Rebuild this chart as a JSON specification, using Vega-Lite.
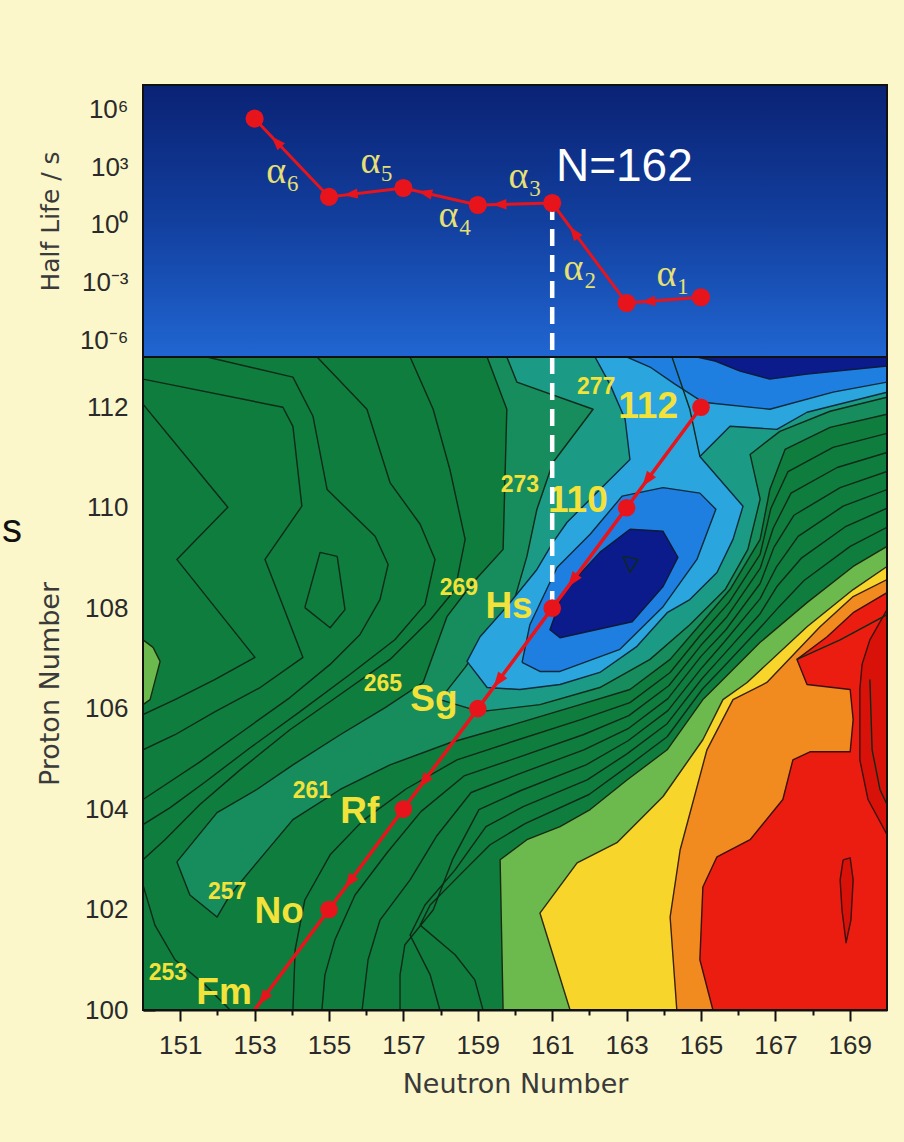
{
"$schema":"https://vega.github.io/schema/vega-lite/v6.json",
"background":"#FBF7CB",
"padding":{"left":2,"top":84,"right":16,"bottom":64},
"spacing":0,
"bounds":"flush",
"config":{"view":{"stroke":null},
 "axis":{"domainColor":"#111","domainWidth":2,"tickColor":"#111","tickWidth":2,"labelColor":"#2a2a2a","labelFont":"Liberation Sans","labelFontSize":26,"titleFont":"DejaVu Sans","titleFontSize":25,"titleFontWeight":"normal","titleColor":"#3a3a3a","grid":false}},
"datasets":{
"hl":[{"N":153,"hl":350000},{"N":155,"hl":29},{"N":157,"hl":85},{"N":159,"hl":11},{"N":161,"hl":14},{"N":163,"hl":0.000085},{"N":165,"hl":0.00017}],
"hlseg":[{"N":165,"hl":0.00017,"N2":163,"hl2":0.000085},{"N":163,"hl":0.000085,"N2":161,"hl2":14},{"N":161,"hl":14,"N2":159,"hl2":11},{"N":159,"hl":11,"N2":157,"hl2":85},{"N":157,"hl":85,"N2":155,"hl2":29},{"N":155,"hl":29,"N2":153,"hl2":350000}],
"alphas":[{"t":"α₁","N":164.25,"hl":0.00245},{"t":"α₂","N":161.75,"hl":0.005},{"t":"α₃","N":160.27,"hl":316},{"t":"α₄","N":158.39,"hl":2.95},{"t":"α₅","N":156.29,"hl":1950},{"t":"α₆","N":153.76,"hl":575}],
"chain":[{"N":153,"Z":100},{"N":155,"Z":102},{"N":157,"Z":104},{"N":159,"Z":106},{"N":161,"Z":108},{"N":163,"Z":110},{"N":165,"Z":112}],
"chainseg":[{"N":165,"Z":112,"N2":163,"Z2":110},{"N":163,"Z":110,"N2":161,"Z2":108},{"N":161,"Z":108,"N2":159,"Z2":106},{"N":159,"Z":106,"N2":157,"Z2":104},{"N":157,"Z":104,"N2":155,"Z2":102},{"N":155,"Z":102,"N2":153,"Z2":100}],
"elem":[{"t":"112","N":163.58,"Z":112.0},{"t":"110","N":161.69,"Z":110.14},{"t":"Hs","N":159.84,"Z":108.03},{"t":"Sg","N":157.82,"Z":106.18},{"t":"Rf","N":155.83,"Z":103.95},{"t":"No","N":153.66,"Z":101.95},{"t":"Fm","N":152.18,"Z":100.34}],
"mass":[{"t":"277","N":162.18,"Z":112.4},{"t":"273","N":160.13,"Z":110.46},{"t":"269","N":158.49,"Z":108.41},{"t":"265","N":156.45,"Z":106.5},{"t":"261","N":154.54,"Z":104.35},{"t":"257","N":152.26,"Z":102.35},{"t":"253","N":150.67,"Z":100.74}],
"poly":[
{"p":"t1","k":1,"N":150.91,"Z":102.95},{"p":"t1","k":2,"N":151.99,"Z":103.93},{"p":"t1","k":3,"N":153.06,"Z":104.39},{"p":"t1","k":4,"N":154.03,"Z":104.88},{"p":"t1","k":5,"N":155.3,"Z":105.48},{"p":"t1","k":6,"N":156.51,"Z":106.02},{"p":"t1","k":7,"N":157.53,"Z":106.52},{"p":"t1","k":8,"N":158.17,"Z":107.83},{"p":"t1","k":9,"N":158.87,"Z":108.51},{"p":"t1","k":10,"N":159.68,"Z":109.17},{"p":"t1","k":11,"N":159.78,"Z":111.96},{"p":"t1","k":12,"N":159.25,"Z":113},{"p":"t1","k":13,"N":170,"Z":113},{"p":"t1","k":14,"N":170,"Z":111.86},{"p":"t1","k":15,"N":168.47,"Z":111.6},{"p":"t1","k":16,"N":167.26,"Z":111.16},{"p":"t1","k":17,"N":166.85,"Z":110.36},{"p":"t1","k":18,"N":166.59,"Z":109.37},{"p":"t1","k":19,"N":165.78,"Z":108.37},{"p":"t1","k":20,"N":164.97,"Z":107.67},{"p":"t1","k":21,"N":164.17,"Z":106.98},{"p":"t1","k":22,"N":163.09,"Z":106.38},{"p":"t1","k":23,"N":161.75,"Z":106.08},{"p":"t1","k":24,"N":159.95,"Z":105.68},{"p":"t1","k":25,"N":158.25,"Z":105.32},{"p":"t1","k":26,"N":156.64,"Z":104.88},{"p":"t1","k":27,"N":155.3,"Z":104.39},{"p":"t1","k":28,"N":154.03,"Z":103.79},{"p":"t1","k":29,"N":153.01,"Z":102.89},{"p":"t1","k":30,"N":152.34,"Z":102.29},{"p":"t1","k":31,"N":151.99,"Z":101.85},{"p":"t1","k":32,"N":151.26,"Z":102.29},{"p":"t1","k":33,"N":150.91,"Z":102.95},
{"p":"t2","k":1,"N":157.98,"Z":106.18},{"p":"t2","k":2,"N":158.66,"Z":106.82},{"p":"t2","k":3,"N":159.33,"Z":107.53},{"p":"t2","k":4,"N":160.0,"Z":108.21},{"p":"t2","k":5,"N":160.32,"Z":109.03},{"p":"t2","k":6,"N":160.59,"Z":109.97},{"p":"t2","k":7,"N":161.02,"Z":110.9},{"p":"t2","k":8,"N":162.1,"Z":111.96},{"p":"t2","k":9,"N":160.05,"Z":112.5},{"p":"t2","k":10,"N":159.78,"Z":113},{"p":"t2","k":11,"N":170,"Z":113},{"p":"t2","k":12,"N":170,"Z":112.2},{"p":"t2","k":13,"N":168.47,"Z":111.92},{"p":"t2","k":14,"N":167.12,"Z":111.52},{"p":"t2","k":15,"N":166.32,"Z":111.06},{"p":"t2","k":16,"N":166.59,"Z":110.17},{"p":"t2","k":17,"N":166.26,"Z":109.17},{"p":"t2","k":18,"N":165.65,"Z":108.37},{"p":"t2","k":19,"N":164.7,"Z":107.67},{"p":"t2","k":20,"N":163.63,"Z":106.98},{"p":"t2","k":21,"N":162.28,"Z":106.42},{"p":"t2","k":22,"N":160.67,"Z":106.08},{"p":"t2","k":23,"N":159.06,"Z":105.94},{"p":"t2","k":24,"N":157.98,"Z":106.18},
{"p":"lb","k":1,"N":162.15,"Z":113},{"p":"lb","k":2,"N":170,"Z":113},{"p":"lb","k":3,"N":170,"Z":112.3},{"p":"lb","k":4,"N":167.85,"Z":111.9},{"p":"lb","k":5,"N":167.04,"Z":111.56},{"p":"lb","k":6,"N":165.78,"Z":111.62},{"p":"lb","k":7,"N":164.97,"Z":111.02},{"p":"lb","k":8,"N":166.13,"Z":110.03},{"p":"lb","k":9,"N":165.86,"Z":109.37},{"p":"lb","k":10,"N":165.43,"Z":108.71},{"p":"lb","k":11,"N":164.7,"Z":108.17},{"p":"lb","k":12,"N":164.09,"Z":107.91},{"p":"lb","k":13,"N":163.28,"Z":107.24},{"p":"lb","k":14,"N":162.28,"Z":106.72},{"p":"lb","k":15,"N":161.21,"Z":106.48},{"p":"lb","k":16,"N":160.13,"Z":106.38},{"p":"lb","k":17,"N":159.25,"Z":106.42},{"p":"lb","k":18,"N":158.71,"Z":106.94},{"p":"lb","k":19,"N":159.06,"Z":107.43},{"p":"lb","k":20,"N":159.78,"Z":108.03},{"p":"lb","k":21,"N":160.59,"Z":108.77},{"p":"lb","k":22,"N":161.02,"Z":109.31},{"p":"lb","k":23,"N":161.4,"Z":109.71},{"p":"lb","k":24,"N":162.1,"Z":110.23},{"p":"lb","k":25,"N":163.09,"Z":110.96},{"p":"lb","k":26,"N":162.96,"Z":111.76},{"p":"lb","k":27,"N":162.55,"Z":112.46},{"p":"lb","k":28,"N":162.15,"Z":113},
{"p":"mb1","k":1,"N":160.19,"Z":106.92},{"p":"mb1","k":2,"N":160.4,"Z":107.67},{"p":"mb1","k":3,"N":161.13,"Z":108.81},{"p":"mb1","k":4,"N":162.02,"Z":109.47},{"p":"mb1","k":5,"N":162.88,"Z":110.23},{"p":"mb1","k":6,"N":163.98,"Z":110.4},{"p":"mb1","k":7,"N":164.97,"Z":110.29},{"p":"mb1","k":8,"N":165.4,"Z":109.97},{"p":"mb1","k":9,"N":164.89,"Z":108.97},{"p":"mb1","k":10,"N":163.98,"Z":108.03},{"p":"mb1","k":11,"N":162.82,"Z":107.18},{"p":"mb1","k":12,"N":161.21,"Z":106.74},{"p":"mb1","k":13,"N":160.67,"Z":106.74},{"p":"mb1","k":14,"N":160.19,"Z":106.92},
{"p":"mb2","k":1,"N":163.01,"Z":113},{"p":"mb2","k":2,"N":170,"Z":113},{"p":"mb2","k":3,"N":170,"Z":112.5},{"p":"mb2","k":4,"N":168.55,"Z":112.3},{"p":"mb2","k":5,"N":166.85,"Z":111.96},{"p":"mb2","k":6,"N":165.05,"Z":112.1},{"p":"mb2","k":7,"N":164.3,"Z":112.46},{"p":"mb2","k":8,"N":163.63,"Z":112.8},{"p":"mb2","k":9,"N":163.01,"Z":113},
{"p":"nv1","k":1,"N":164.89,"Z":113},{"p":"nv1","k":2,"N":170,"Z":113},{"p":"nv1","k":3,"N":170,"Z":112.82},{"p":"nv1","k":4,"N":167.85,"Z":112.66},{"p":"nv1","k":5,"N":166.85,"Z":112.56},{"p":"nv1","k":6,"N":166.05,"Z":112.72},{"p":"nv1","k":7,"N":165.38,"Z":112.92},{"p":"nv1","k":8,"N":164.89,"Z":113},
{"p":"nv2","k":1,"N":163.09,"Z":109.57},{"p":"nv2","k":2,"N":163.98,"Z":109.53},{"p":"nv2","k":3,"N":164.38,"Z":109.01},{"p":"nv2","k":4,"N":163.98,"Z":108.43},{"p":"nv2","k":5,"N":163.15,"Z":107.73},{"p":"nv2","k":6,"N":161.21,"Z":107.41},{"p":"nv2","k":7,"N":160.94,"Z":107.57},{"p":"nv2","k":8,"N":161.29,"Z":108.31},{"p":"nv2","k":9,"N":162.28,"Z":109.11},{"p":"nv2","k":10,"N":163.09,"Z":109.57},
{"p":"lg2","k":1,"N":150,"Z":107.37},{"p":"lg2","k":2,"N":150.27,"Z":107.22},{"p":"lg2","k":3,"N":150.46,"Z":106.94},{"p":"lg2","k":4,"N":150.19,"Z":106.18},{"p":"lg2","k":5,"N":150,"Z":106.08},{"p":"lg2","k":6,"N":150,"Z":107.37},
{"p":"lg1","k":1,"N":159.68,"Z":100},{"p":"lg1","k":2,"N":159.6,"Z":102.99},{"p":"lg1","k":3,"N":160.32,"Z":103.39},{"p":"lg1","k":4,"N":161.21,"Z":103.65},{"p":"lg1","k":5,"N":162.02,"Z":103.99},{"p":"lg1","k":6,"N":163.01,"Z":104.58},{"p":"lg1","k":7,"N":164.09,"Z":105.18},{"p":"lg1","k":8,"N":165.05,"Z":106.18},{"p":"lg1","k":9,"N":165.51,"Z":106.52},{"p":"lg1","k":10,"N":166.59,"Z":107.32},{"p":"lg1","k":11,"N":167.85,"Z":108.11},{"p":"lg1","k":12,"N":169.09,"Z":108.83},{"p":"lg1","k":13,"N":170,"Z":109.23},{"p":"lg1","k":14,"N":170,"Z":100},{"p":"lg1","k":15,"N":159.68,"Z":100},
{"p":"ye","k":1,"N":161.48,"Z":100},{"p":"ye","k":2,"N":160.67,"Z":101.93},{"p":"ye","k":3,"N":161.67,"Z":102.93},{"p":"ye","k":4,"N":162.74,"Z":103.33},{"p":"ye","k":5,"N":163.98,"Z":104.25},{"p":"ye","k":6,"N":165.05,"Z":105.38},{"p":"ye","k":7,"N":165.59,"Z":106.18},{"p":"ye","k":8,"N":166.24,"Z":106.52},{"p":"ye","k":9,"N":167.85,"Z":107.63},{"p":"ye","k":10,"N":169.09,"Z":108.37},{"p":"ye","k":11,"N":170,"Z":108.83},{"p":"ye","k":12,"N":170,"Z":100},{"p":"ye","k":13,"N":161.48,"Z":100},
{"p":"or","k":1,"N":164.35,"Z":100},{"p":"or","k":2,"N":164.17,"Z":101.85},{"p":"or","k":3,"N":164.44,"Z":103.19},{"p":"or","k":4,"N":165.16,"Z":105.18},{"p":"or","k":5,"N":165.86,"Z":106.18},{"p":"or","k":6,"N":166.77,"Z":106.52},{"p":"or","k":7,"N":168.2,"Z":107.63},{"p":"or","k":8,"N":169.09,"Z":108.23},{"p":"or","k":9,"N":170,"Z":108.57},{"p":"or","k":10,"N":170,"Z":100},{"p":"or","k":11,"N":164.35,"Z":100},
{"p":"rd","k":1,"N":165.32,"Z":100},{"p":"rd","k":2,"N":164.97,"Z":101.0},{"p":"rd","k":3,"N":165.05,"Z":102.45},{"p":"rd","k":4,"N":165.43,"Z":103.05},{"p":"rd","k":5,"N":166.32,"Z":103.39},{"p":"rd","k":6,"N":167.2,"Z":104.19},{"p":"rd","k":7,"N":167.47,"Z":104.98},{"p":"rd","k":8,"N":167.93,"Z":105.14},{"p":"rd","k":9,"N":169.01,"Z":105.14},{"p":"rd","k":10,"N":169.09,"Z":105.78},{"p":"rd","k":11,"N":169.01,"Z":106.38},{"p":"rd","k":12,"N":167.85,"Z":106.48},{"p":"rd","k":13,"N":167.58,"Z":106.98},{"p":"rd","k":14,"N":168.39,"Z":107.43},{"p":"rd","k":15,"N":169.09,"Z":107.91},{"p":"rd","k":16,"N":170,"Z":108.31},{"p":"rd","k":17,"N":170,"Z":100},{"p":"rd","k":18,"N":165.32,"Z":100},
{"p":"dr","k":1,"N":169.27,"Z":106.38},{"p":"dr","k":2,"N":169.27,"Z":104.98},{"p":"dr","k":3,"N":169.49,"Z":104.19},{"p":"dr","k":4,"N":170,"Z":103.49},{"p":"dr","k":5,"N":170,"Z":107.97},{"p":"dr","k":6,"N":169.54,"Z":107.37},{"p":"dr","k":7,"N":169.33,"Z":106.88},{"p":"dr","k":8,"N":169.27,"Z":106.38},
{"p":"rs","k":1,"N":168.82,"Z":102.99},{"p":"rs","k":2,"N":169.01,"Z":103.03},{"p":"rs","k":3,"N":169.09,"Z":102.59},{"p":"rs","k":4,"N":169.03,"Z":101.79},{"p":"rs","k":5,"N":168.9,"Z":101.34},{"p":"rs","k":6,"N":168.79,"Z":101.99},{"p":"rs","k":7,"N":168.74,"Z":102.59},{"p":"rs","k":8,"N":168.82,"Z":102.99}
],
"cl":[
{"id":"U1","k":1,"N":150,"Z":112.56},{"id":"U1","k":2,"N":153.76,"Z":112.0},{"id":"U1","k":3,"N":154.03,"Z":111.62},{"id":"U1","k":4,"N":154.27,"Z":110.03},{"id":"U1","k":5,"N":153.28,"Z":108.97},{"id":"U1","k":6,"N":154.3,"Z":107.02},{"id":"U1","k":7,"N":153.15,"Z":106.42},{"id":"U1","k":8,"N":151.94,"Z":105.94},{"id":"U1","k":9,"N":150.86,"Z":105.48},{"id":"U1","k":10,"N":150,"Z":105.18},
{"id":"U2","k":1,"N":150,"Z":112.06},{"id":"U2","k":2,"N":152.28,"Z":110.01},{"id":"U2","k":3,"N":150.91,"Z":108.97},{"id":"U2","k":4,"N":153.01,"Z":107.02},{"id":"U2","k":5,"N":151.94,"Z":106.58},{"id":"U2","k":6,"N":150.86,"Z":106.18},{"id":"U2","k":7,"N":150,"Z":105.88},
{"id":"U3","k":1,"N":151.72,"Z":113},{"id":"U3","k":2,"N":154.03,"Z":112.6},{"id":"U3","k":3,"N":154.57,"Z":111.82},{"id":"U3","k":4,"N":154.95,"Z":110.36},{"id":"U3","k":5,"N":156.24,"Z":109.43},{"id":"U3","k":6,"N":156.59,"Z":108.87},{"id":"U3","k":7,"N":156.37,"Z":108.17},{"id":"U3","k":8,"N":155.83,"Z":107.47},{"id":"U3","k":9,"N":155.03,"Z":106.88},{"id":"U3","k":10,"N":153.95,"Z":106.22},{"id":"U3","k":11,"N":152.74,"Z":105.58},{"id":"U3","k":12,"N":151.53,"Z":104.94},{"id":"U3","k":13,"N":150.59,"Z":104.48},{"id":"U3","k":14,"N":150,"Z":104.19},
{"id":"U4","k":1,"N":154.68,"Z":113},{"id":"U4","k":2,"N":156.02,"Z":111.96},{"id":"U4","k":3,"N":156.64,"Z":110.5},{"id":"U4","k":4,"N":157.45,"Z":109.67},{"id":"U4","k":5,"N":157.85,"Z":108.97},{"id":"U4","k":6,"N":157.58,"Z":108.07},{"id":"U4","k":7,"N":156.77,"Z":107.37},{"id":"U4","k":8,"N":155.56,"Z":106.68},{"id":"U4","k":9,"N":154.22,"Z":105.94},{"id":"U4","k":10,"N":152.88,"Z":105.22},{"id":"U4","k":11,"N":151.67,"Z":104.54},{"id":"U4","k":12,"N":150.73,"Z":104.03},{"id":"U4","k":13,"N":150,"Z":103.69},
{"id":"U5","k":1,"N":157.18,"Z":113},{"id":"U5","k":2,"N":157.8,"Z":111.96},{"id":"U5","k":3,"N":158.25,"Z":110.76},{"id":"U5","k":4,"N":158.66,"Z":109.37},{"id":"U5","k":5,"N":158.39,"Z":108.37},{"id":"U5","k":6,"N":157.72,"Z":107.77},{"id":"U5","k":7,"N":156.64,"Z":106.98},{"id":"U5","k":8,"N":155.3,"Z":106.28},{"id":"U5","k":9,"N":153.95,"Z":105.58},{"id":"U5","k":10,"N":152.61,"Z":104.78},{"id":"U5","k":11,"N":151.53,"Z":104.09},{"id":"U5","k":12,"N":150.59,"Z":103.39},{"id":"U5","k":13,"N":150,"Z":102.99},
{"id":"B1","k":1,"N":170,"Z":111.48},{"id":"B1","k":2,"N":168.55,"Z":111.2},{"id":"B1","k":3,"N":167.34,"Z":110.72},{"id":"B1","k":4,"N":166.88,"Z":109.99},{"id":"B1","k":5,"N":166.59,"Z":109.07},{"id":"B1","k":6,"N":165.75,"Z":108.11},{"id":"B1","k":7,"N":164.97,"Z":107.45},{"id":"B1","k":8,"N":164.17,"Z":106.72},{"id":"B1","k":9,"N":163.09,"Z":106.12},{"id":"B1","k":10,"N":161.77,"Z":105.78},{"id":"B1","k":11,"N":160.0,"Z":105.36},{"id":"B1","k":12,"N":158.44,"Z":104.98},{"id":"B1","k":13,"N":157.07,"Z":104.4},{"id":"B1","k":14,"N":155.91,"Z":103.77},{"id":"B1","k":15,"N":155.03,"Z":103.09},{"id":"B1","k":16,"N":154.35,"Z":102.19},{"id":"B1","k":17,"N":154.09,"Z":101.2},{"id":"B1","k":18,"N":154.03,"Z":100},
{"id":"B2","k":1,"N":170,"Z":111.1},{"id":"B2","k":2,"N":168.66,"Z":110.8},{"id":"B2","k":3,"N":167.42,"Z":110.29},{"id":"B2","k":4,"N":166.94,"Z":109.59},{"id":"B2","k":5,"N":166.59,"Z":108.79},{"id":"B2","k":6,"N":165.7,"Z":107.83},{"id":"B2","k":7,"N":165.0,"Z":107.26},{"id":"B2","k":8,"N":164.14,"Z":106.46},{"id":"B2","k":9,"N":163.06,"Z":105.86},{"id":"B2","k":10,"N":161.83,"Z":105.48},{"id":"B2","k":11,"N":160.05,"Z":105.02},{"id":"B2","k":12,"N":158.63,"Z":104.66},{"id":"B2","k":13,"N":157.47,"Z":103.95},{"id":"B2","k":14,"N":156.56,"Z":103.13},{"id":"B2","k":15,"N":155.7,"Z":102.29},{"id":"B2","k":16,"N":155.16,"Z":101.4},{"id":"B2","k":17,"N":154.89,"Z":100.7},{"id":"B2","k":18,"N":154.81,"Z":100},
{"id":"B3","k":1,"N":170,"Z":110.72},{"id":"B3","k":2,"N":168.74,"Z":110.4},{"id":"B3","k":3,"N":167.5,"Z":109.85},{"id":"B3","k":4,"N":166.96,"Z":109.21},{"id":"B3","k":5,"N":166.59,"Z":108.49},{"id":"B3","k":6,"N":165.67,"Z":107.57},{"id":"B3","k":7,"N":165.0,"Z":107.04},{"id":"B3","k":8,"N":164.11,"Z":106.2},{"id":"B3","k":9,"N":163.04,"Z":105.6},{"id":"B3","k":10,"N":161.85,"Z":105.18},{"id":"B3","k":11,"N":160.11,"Z":104.7},{"id":"B3","k":12,"N":158.82,"Z":104.33},{"id":"B3","k":13,"N":157.9,"Z":103.47},{"id":"B3","k":14,"N":157.18,"Z":102.59},{"id":"B3","k":15,"N":156.37,"Z":101.79},{"id":"B3","k":16,"N":156.05,"Z":101.0},{"id":"B3","k":17,"N":155.89,"Z":100},
{"id":"B4","k":1,"N":170,"Z":110.36},{"id":"B4","k":2,"N":168.82,"Z":110.03},{"id":"B4","k":3,"N":167.61,"Z":109.43},{"id":"B4","k":4,"N":167.02,"Z":108.81},{"id":"B4","k":5,"N":166.59,"Z":108.19},{"id":"B4","k":6,"N":165.62,"Z":107.32},{"id":"B4","k":7,"N":165.03,"Z":106.82},{"id":"B4","k":8,"N":164.11,"Z":105.96},{"id":"B4","k":9,"N":163.04,"Z":105.36},{"id":"B4","k":10,"N":161.91,"Z":104.88},{"id":"B4","k":11,"N":160.16,"Z":104.37},{"id":"B4","k":12,"N":159.03,"Z":103.99},{"id":"B4","k":13,"N":158.33,"Z":103.01},{"id":"B4","k":14,"N":157.8,"Z":101.99},{"id":"B4","k":15,"N":157.04,"Z":101.3},{"id":"B4","k":16,"N":156.91,"Z":100.7},{"id":"B4","k":17,"N":156.91,"Z":100},
{"id":"B5","k":1,"N":170,"Z":109.99},{"id":"B5","k":2,"N":168.9,"Z":109.63},{"id":"B5","k":3,"N":167.69,"Z":108.99},{"id":"B5","k":4,"N":167.04,"Z":108.43},{"id":"B5","k":5,"N":166.59,"Z":107.89},{"id":"B5","k":6,"N":165.59,"Z":107.06},{"id":"B5","k":7,"N":165.03,"Z":106.6},{"id":"B5","k":8,"N":164.09,"Z":105.7},{"id":"B5","k":9,"N":163.01,"Z":105.1},{"id":"B5","k":10,"N":161.94,"Z":104.58},{"id":"B5","k":11,"N":160.22,"Z":104.05},{"id":"B5","k":12,"N":159.22,"Z":103.65},{"id":"B5","k":13,"N":158.39,"Z":102.79},{"id":"B5","k":14,"N":157.58,"Z":102.09},{"id":"B5","k":15,"N":157.18,"Z":101.49},{"id":"B5","k":16,"N":157.72,"Z":100.7},{"id":"B5","k":17,"N":157.98,"Z":100},
{"id":"B6","k":1,"N":170,"Z":109.61},{"id":"B6","k":2,"N":169.01,"Z":109.23},{"id":"B6","k":3,"N":167.77,"Z":108.55},{"id":"B6","k":4,"N":167.1,"Z":108.03},{"id":"B6","k":5,"N":166.59,"Z":107.61},{"id":"B6","k":6,"N":165.54,"Z":106.78},{"id":"B6","k":7,"N":165.05,"Z":106.4},{"id":"B6","k":8,"N":164.09,"Z":105.44},{"id":"B6","k":9,"N":163.01,"Z":104.84},{"id":"B6","k":10,"N":161.99,"Z":104.29},{"id":"B6","k":11,"N":160.27,"Z":103.71},{"id":"B6","k":12,"N":159.33,"Z":103.29},{"id":"B6","k":13,"N":158.52,"Z":102.69},{"id":"B6","k":14,"N":157.72,"Z":102.09},{"id":"B6","k":15,"N":157.45,"Z":101.69},{"id":"B6","k":16,"N":158.39,"Z":101.1},{"id":"B6","k":17,"N":158.92,"Z":100.6},{"id":"B6","k":18,"N":159.14,"Z":100},
{"id":"L1","k":1,"N":150,"Z":102.49},{"id":"L1","k":2,"N":150.32,"Z":101.69},{"id":"L1","k":3,"N":150.86,"Z":101.0},{"id":"L1","k":4,"N":151.67,"Z":100.5},{"id":"L1","k":5,"N":152.34,"Z":100},
{"id":"J1","k":1,"N":164.22,"Z":113},{"id":"J1","k":2,"N":164.7,"Z":111.96},{"id":"J1","k":3,"N":164.97,"Z":111.02},
{"id":"R3","k":1,"N":167.58,"Z":106.98},{"id":"R3","k":2,"N":168.74,"Z":107.37},{"id":"R3","k":3,"N":170,"Z":107.87},
{"id":"R5","k":1,"N":169.54,"Z":106.58},{"id":"R5","k":2,"N":169.6,"Z":105.18},{"id":"R5","k":3,"N":169.81,"Z":104.39},{"id":"R5","k":4,"N":170,"Z":104.09},
{"id":"LP","k":1,"N":154.35,"Z":108.01},{"id":"LP","k":2,"N":154.76,"Z":109.11},{"id":"LP","k":3,"N":155.22,"Z":109.03},{"id":"LP","k":4,"N":155.43,"Z":107.97},{"id":"LP","k":5,"N":155.03,"Z":107.61},{"id":"LP","k":6,"N":154.35,"Z":108.01},
{"id":"TR","k":1,"N":162.9,"Z":109.03},{"id":"TR","k":2,"N":163.31,"Z":108.97},{"id":"TR","k":3,"N":163.09,"Z":108.71},{"id":"TR","k":4,"N":162.9,"Z":109.03}
]
},
"vconcat":[
{
"width":744,"height":272,
"encoding":{
 "x":{"field":"N","type":"quantitative","scale":{"domain":[150,170],"nice":false,"zero":false},"axis":null},
 "y":{"field":"hl","type":"quantitative","scale":{"type":"log","domain":[1.3e-7,2e7],"nice":false},
  "axis":{"values":[0.000001,0.001,1,1000,1000000],"labelExpr":"datum.value > 1e5 ? '10⁶' : datum.value > 100 ? '10³' : datum.value > 0.1 ? '10⁰' : datum.value > 1e-4 ? '10⁻³' : '10⁻⁶'","tickSize":-8,"labelPadding":23,"minExtent":58,"maxExtent":58,"title":"Half Life / s","titlePadding":22,"titleFontSize":25}}
},
"layer":[
 {"data":{"values":[{"N":150,"N2":170,"hl":1.3e-7,"hl2":2e7}]},
  "mark":{"type":"rect","fill":{"gradient":"linear","x1":0,"y1":0,"x2":0,"y2":1,"stops":[{"offset":0,"color":"#0a2274"},{"offset":0.5,"color":"#123f9e"},{"offset":1,"color":"#2066d2"}]}},
  "encoding":{"x2":{"field":"N2"},"y2":{"field":"hl2"}}},
 {"data":{"values":[{"N":161,"hl":14,"hl2":1.3e-7}]},
  "mark":{"type":"rule","color":"white","strokeWidth":4.5,"strokeDash":[17,9]},
  "encoding":{"y2":{"field":"hl2"}}},
 {"data":{"name":"hl"},"mark":{"type":"line","color":"#e8141c","strokeWidth":3},"encoding":{}},
 {"data":{"name":"hlseg"},
  "transform":[{"calculate":"datum.N+0.7*(datum.N2-datum.N)","as":"aN"},{"calculate":"exp(log(datum.hl)+0.7*(log(datum.hl2)-log(datum.hl)))","as":"ah"},{"calculate":"atan2((datum.N2-datum.N)*37.2,(log(datum.hl2)-log(datum.hl))/LN10*19.17)*180/PI","as":"ang"}],
  "mark":{"type":"point","shape":"M0,-1L0.65,0.8L-0.65,0.8Z","filled":true,"color":"#e8141c","size":250,"opacity":1},
  "encoding":{"x":{"field":"aN","type":"quantitative","scale":{"domain":[150,170],"nice":false,"zero":false},"axis":null},
   "y":{"field":"ah","type":"quantitative","scale":{"type":"log","domain":[1.3e-7,2e7],"nice":false}},
   "angle":{"field":"ang","type":"quantitative","scale":null}}},
 {"data":{"name":"hl"},"mark":{"type":"circle","color":"#e8141c","size":330,"opacity":1},"encoding":{}},
 {"data":{"name":"alphas"},"mark":{"type":"text","font":"Liberation Serif","fontSize":38,"color":"#e6e074"},"encoding":{"text":{"field":"t"}}},
 {"data":{"values":[{"N":161.1,"hl":1050,"t":"N=162"}]},"mark":{"type":"text","align":"left","font":"Liberation Sans","fontSize":46,"color":"white"},"encoding":{"text":{"field":"t"}}},
 {"data":{"values":[{"N":150,"N2":170,"hl":1.3e-7,"hl2":2e7}]},"mark":{"type":"rect","filled":false,"stroke":"#111","strokeWidth":2},"encoding":{"x2":{"field":"N2"},"y2":{"field":"hl2"}}}
]
},
{
"width":744,"height":653,
"encoding":{
 "x":{"field":"N","type":"quantitative","scale":{"domain":[150,170],"nice":false,"zero":false},
  "axis":{"values":[151,152,153,154,155,156,157,158,159,160,161,162,163,164,165,166,167,168,169],"labelExpr":"datum.value % 2 == 1 ? datum.label : ''","tickSize":{"condition":{"test":"datum.value % 2 == 0","value":5},"value":11},"labelPadding":11,"title":"Neutron Number","titlePadding":13,"titleFontSize":27,"labelFlush":false,"labelOverlap":false}},
 "y":{"field":"Z","type":"quantitative","scale":{"domain":[100,113],"nice":false,"zero":false},
  "axis":{"values":[100,101,102,103,104,105,106,107,108,109,110,111,112],"labelExpr":"datum.value % 2 == 0 ? datum.label : ''","tickSize":{"condition":{"test":"datum.value % 2 == 1","value":-5},"value":-12},"labelPadding":27,"minExtent":58,"maxExtent":58,"title":"Proton Number","titlePadding":21,"titleFontSize":27,"labelOverlap":false}}
},
"layer":[
 {"data":{"values":[{"N":150,"N2":170,"Z":100,"Z2":113}]},"mark":{"type":"rect","fill":"#0f7d3d"},"encoding":{"x2":{"field":"N2"},"y2":{"field":"Z2"}}},
 {"data":{"name":"poly"},"transform":[{"filter":"datum.p=='t1'"}],"mark":{"type":"line","clip":true,"strokeJoin":"round","fill":"#178c5c","stroke":"#0d2a18","strokeWidth":1.4},"encoding":{"detail":{"field":"p"},"order":{"field":"k","type":"quantitative"}}},
 {"data":{"name":"poly"},"transform":[{"filter":"datum.p=='t2'"}],"mark":{"type":"line","clip":true,"strokeJoin":"round","fill":"#1b9b86","stroke":"#0d2a18","strokeWidth":1.4},"encoding":{"detail":{"field":"p"},"order":{"field":"k","type":"quantitative"}}},
 {"data":{"name":"poly"},"transform":[{"filter":"datum.p=='lb'"}],"mark":{"type":"line","clip":true,"strokeJoin":"round","fill":"#2aa5de","stroke":"#0d2a3a","strokeWidth":1.4},"encoding":{"detail":{"field":"p"},"order":{"field":"k","type":"quantitative"}}},
 {"data":{"name":"poly"},"transform":[{"filter":"datum.p=='mb1' || datum.p=='mb2'"}],"mark":{"type":"line","clip":true,"strokeJoin":"round","fill":"#1f7fe0","stroke":"#0d2a3a","strokeWidth":1.4},"encoding":{"detail":{"field":"p"},"order":{"field":"k","type":"quantitative"}}},
 {"data":{"name":"poly"},"transform":[{"filter":"datum.p=='nv1' || datum.p=='nv2'"}],"mark":{"type":"line","clip":true,"strokeJoin":"round","fill":"#0b1b8c","stroke":"#0d1a3a","strokeWidth":1.4},"encoding":{"detail":{"field":"p"},"order":{"field":"k","type":"quantitative"}}},
 {"data":{"name":"poly"},"transform":[{"filter":"datum.p=='lg1' || datum.p=='lg2'"}],"mark":{"type":"line","clip":true,"strokeJoin":"round","fill":"#6cb94d","stroke":"#1a2a10","strokeWidth":1.4},"encoding":{"detail":{"field":"p"},"order":{"field":"k","type":"quantitative"}}},
 {"data":{"name":"poly"},"transform":[{"filter":"datum.p=='ye'"}],"mark":{"type":"line","clip":true,"strokeJoin":"round","fill":"#f7d52b","stroke":"#2a2a10","strokeWidth":1.4},"encoding":{"detail":{"field":"p"},"order":{"field":"k","type":"quantitative"}}},
 {"data":{"name":"poly"},"transform":[{"filter":"datum.p=='or'"}],"mark":{"type":"line","clip":true,"strokeJoin":"round","fill":"#f28b1f","stroke":"#3a2010","strokeWidth":1.4},"encoding":{"detail":{"field":"p"},"order":{"field":"k","type":"quantitative"}}},
 {"data":{"name":"poly"},"transform":[{"filter":"datum.p=='rd'"}],"mark":{"type":"line","clip":true,"strokeJoin":"round","fill":"#eb1d10","stroke":"#3a1010","strokeWidth":1.4},"encoding":{"detail":{"field":"p"},"order":{"field":"k","type":"quantitative"}}},
 {"data":{"name":"poly"},"transform":[{"filter":"datum.p=='dr' || datum.p=='rs'"}],"mark":{"type":"line","clip":true,"strokeJoin":"round","fill":"#d81208","stroke":"#3a1010","strokeWidth":1.4},"encoding":{"detail":{"field":"p"},"order":{"field":"k","type":"quantitative"}}},
 {"data":{"name":"cl"},"mark":{"type":"line","clip":true,"strokeJoin":"round","stroke":"#0d2a18","strokeWidth":1.4},"encoding":{"detail":{"field":"id"},"order":{"field":"k","type":"quantitative"}}},
 {"data":{"name":"chain"},"mark":{"type":"line","color":"#e8141c","strokeWidth":3.5},"encoding":{}},
 {"data":{"name":"chainseg"},
  "transform":[{"calculate":"datum.N2 == 153 ? 0.88 : 0.72","as":"f"},{"calculate":"datum.N+datum.f*(datum.N2-datum.N)","as":"aN"},{"calculate":"datum.Z+datum.f*(datum.Z2-datum.Z)","as":"aZ"},{"calculate":"atan2((datum.N2-datum.N)*37.2,(datum.Z2-datum.Z)*50.17)*180/PI","as":"ang"}],
  "mark":{"type":"point","shape":"M0,-1L0.65,0.8L-0.65,0.8Z","filled":true,"color":"#e8141c","size":300,"opacity":1},
  "encoding":{"x":{"field":"aN","type":"quantitative","scale":{"domain":[150,170],"nice":false,"zero":false}},
   "y":{"field":"aZ","type":"quantitative","scale":{"domain":[100,113],"nice":false,"zero":false}},
   "angle":{"field":"ang","type":"quantitative","scale":null}}},
 {"data":{"name":"elem"},"mark":{"type":"text","font":"Liberation Sans","fontWeight":"bold","fontSize":37,"color":"#f2e23a"},"encoding":{"text":{"field":"t"}}},
 {"data":{"name":"mass"},"mark":{"type":"text","font":"Liberation Sans","fontWeight":"bold","fontSize":23,"color":"#f2e23a"},"encoding":{"text":{"field":"t"}}},
 {"data":{"values":[{"N":161,"Z":113,"Z2":108}]},"mark":{"type":"rule","color":"white","strokeWidth":4.5,"strokeDash":[17,9]},"encoding":{"y2":{"field":"Z2"}}},
 {"data":{"name":"chain"},"transform":[{"filter":"datum.N > 153"}],"mark":{"type":"circle","color":"#e8141c","size":310,"opacity":1},"encoding":{}},
 {"data":{"values":[{"N":146.48,"Z":109.31,"t":"s"}]},"mark":{"type":"text","align":"center","baseline":"alphabetic","font":"Liberation Sans","fontSize":40,"color":"#111"},"encoding":{"text":{"field":"t"}}},
 {"data":{"values":[{"N":150,"N2":170,"Z":100,"Z2":113}]},"mark":{"type":"rect","filled":false,"stroke":"#111","strokeWidth":2},"encoding":{"x2":{"field":"N2"},"y2":{"field":"Z2"}}}
]
}
]
}
